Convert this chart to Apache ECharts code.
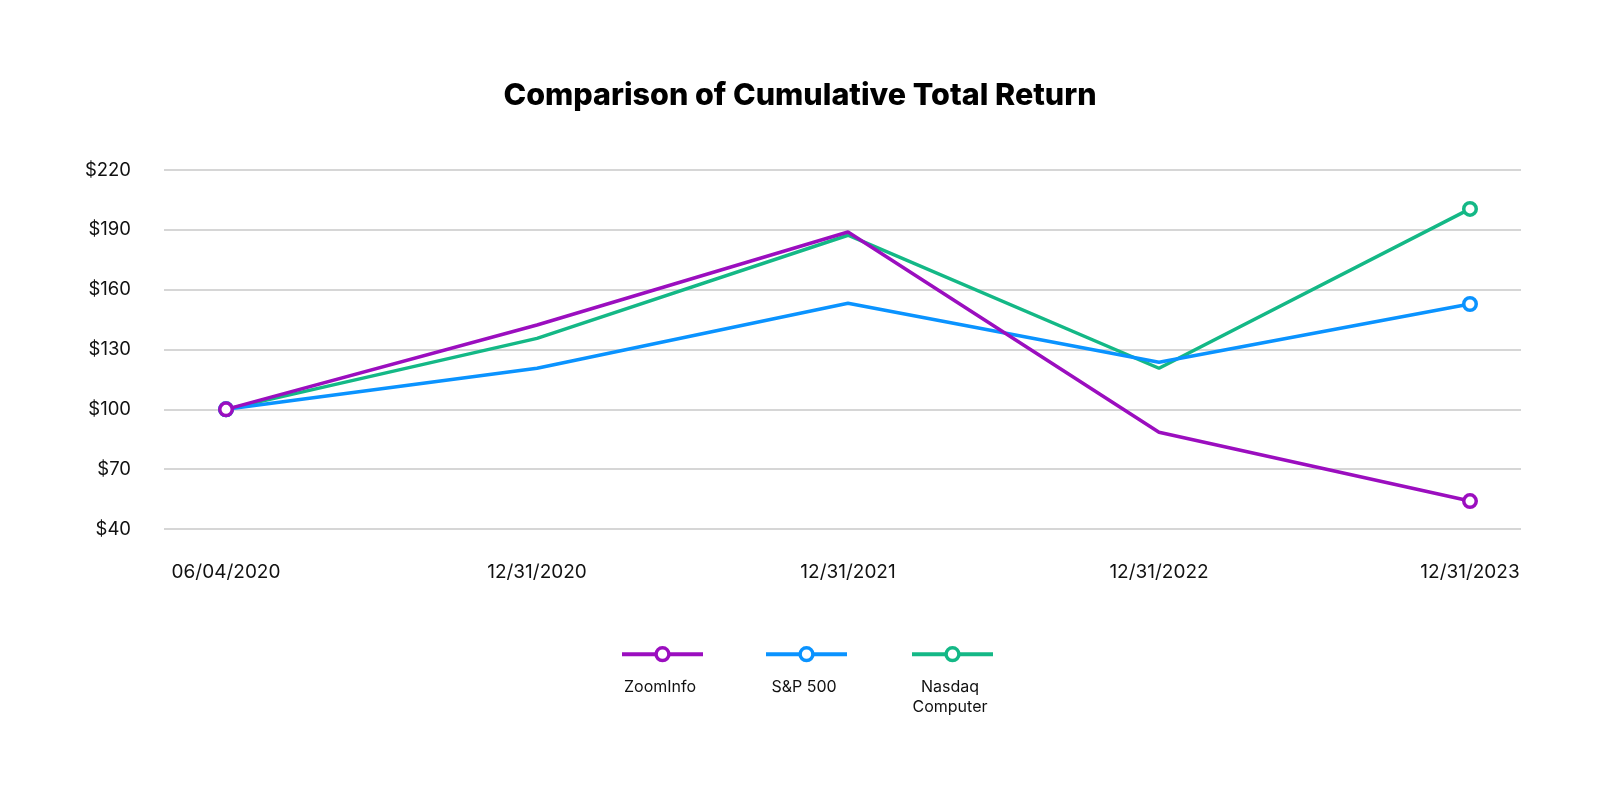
<!DOCTYPE html>
<html>
<head>
<meta charset="utf-8">
<script src="https://cdn.jsdelivr.net/npm/echarts@6/dist/echarts.min.js"></script>
<style>html,body{margin:0;padding:0;background:#fff}#c{width:1600px;height:796px}</style>
</head>
<body>
<div id="c"></div>
<script>
var categories = ['06/04/2020', '12/31/2020', '12/31/2021', '12/31/2022', '12/31/2023'];
var zoomInfo = [100, 142.3, 188.9, 88.5, 54.0];
var sp500 = [100, 120.6, 153.2, 123.6, 152.8];
var nasdaqComputer = [100, 135.6, 187.3, 120.6, 200.5];
var yTicks = [40, 70, 100, 130, 160, 190, 220];
var seriesNames = ['ZoomInfo', 'S&P 500', 'Nasdaq Computer'];
var legendLabels = ['ZoomInfo', 'S&P 500', 'Nasdaq\nComputer'];
var colors = ['#9B0EBF', '#0A93FF', '#14B886'];

var FONT = 'Inter, "Noto Sans", sans-serif';
var chart = echarts.init(document.getElementById('c'));

function toPoints(arr) { return arr.map(function (v, i) { return [i, v]; }); }
var dataSets = [zoomInfo, sp500, nasdaqComputer];

var series = seriesNames.map(function (name, k) {
  var n = dataSets[k].length;
  return {
    name: name,
    type: 'line',
    data: toPoints(dataSets[k]),
    symbol: 'circle',
    symbolSize: function (val, params) { return (params.dataIndex === 0 || params.dataIndex === n - 1) ? 12.5 : 0; },
    showAllSymbol: true,
    z: 10 - k,
    itemStyle: { color: '#fff', borderColor: colors[k], borderWidth: 3.5 },
    lineStyle: { color: colors[k], width: 3.5 },
    emphasis: { disabled: true },
    animation: false
  };
});

var legendLeft = [620, 764, 910];
var legends = seriesNames.map(function (name, k) {
  return {
    data: [name],
    left: legendLeft[k],
    top: 646,
    itemWidth: 81,
    itemHeight: 16,
    formatter: function () { return ''; },
    selectedMode: false,
    padding: 0,
    lineStyle: { width: 4 },
    itemStyle: { borderWidth: 3.5 }
  };
});

var legendCenters = [660, 804, 950];
var graphics = legendLabels.map(function (t, k) {
  return {
    type: 'text',
    left: legendCenters[k] - 60,
    top: 677,
    style: {
      text: t,
      width: 120,
      align: 'center',
      x: 60,
      textAlign: 'center',
      fill: '#111',
      font: '16px ' + FONT,
      lineHeight: 20
    }
  };
});

chart.setOption({
  backgroundColor: '#fff',
  animation: false,
  title: {
    text: 'Comparison of Cumulative Total Return',
    left: 'center',
    top: 75,
    textStyle: { fontFamily: FONT, fontWeight: 800, fontSize: 30.5, color: '#000' }
  },
  legend: legends,
  graphic: graphics,
  grid: { left: 164, right: 79, top: 170, bottom: 267, containLabel: false },
  xAxis: {
    type: 'value',
    min: -0.1994,
    max: 4.164,
    axisLine: { show: false },
    axisTick: { show: false },
    splitLine: { show: false },
    axisLabel: {
      customValues: [0, 1, 2, 3, 4],
      formatter: function (v) { return categories[Math.round(v)]; },
      fontFamily: FONT,
      fontSize: 19,
      color: '#111',
      margin: 34
    }
  },
  yAxis: {
    type: 'value',
    min: yTicks[0],
    max: yTicks[yTicks.length - 1],
    interval: 30,
    axisLine: { show: false },
    axisTick: { show: false },
    splitLine: { show: true, lineStyle: { color: '#C8C8C8', width: 1.5 } },
    axisLabel: {
      formatter: function (v) { return '$' + v; },
      fontFamily: FONT,
      fontSize: 18.5,
      color: '#111',
      margin: 33
    }
  },
  series: series
});
</script>
</body>
</html>
